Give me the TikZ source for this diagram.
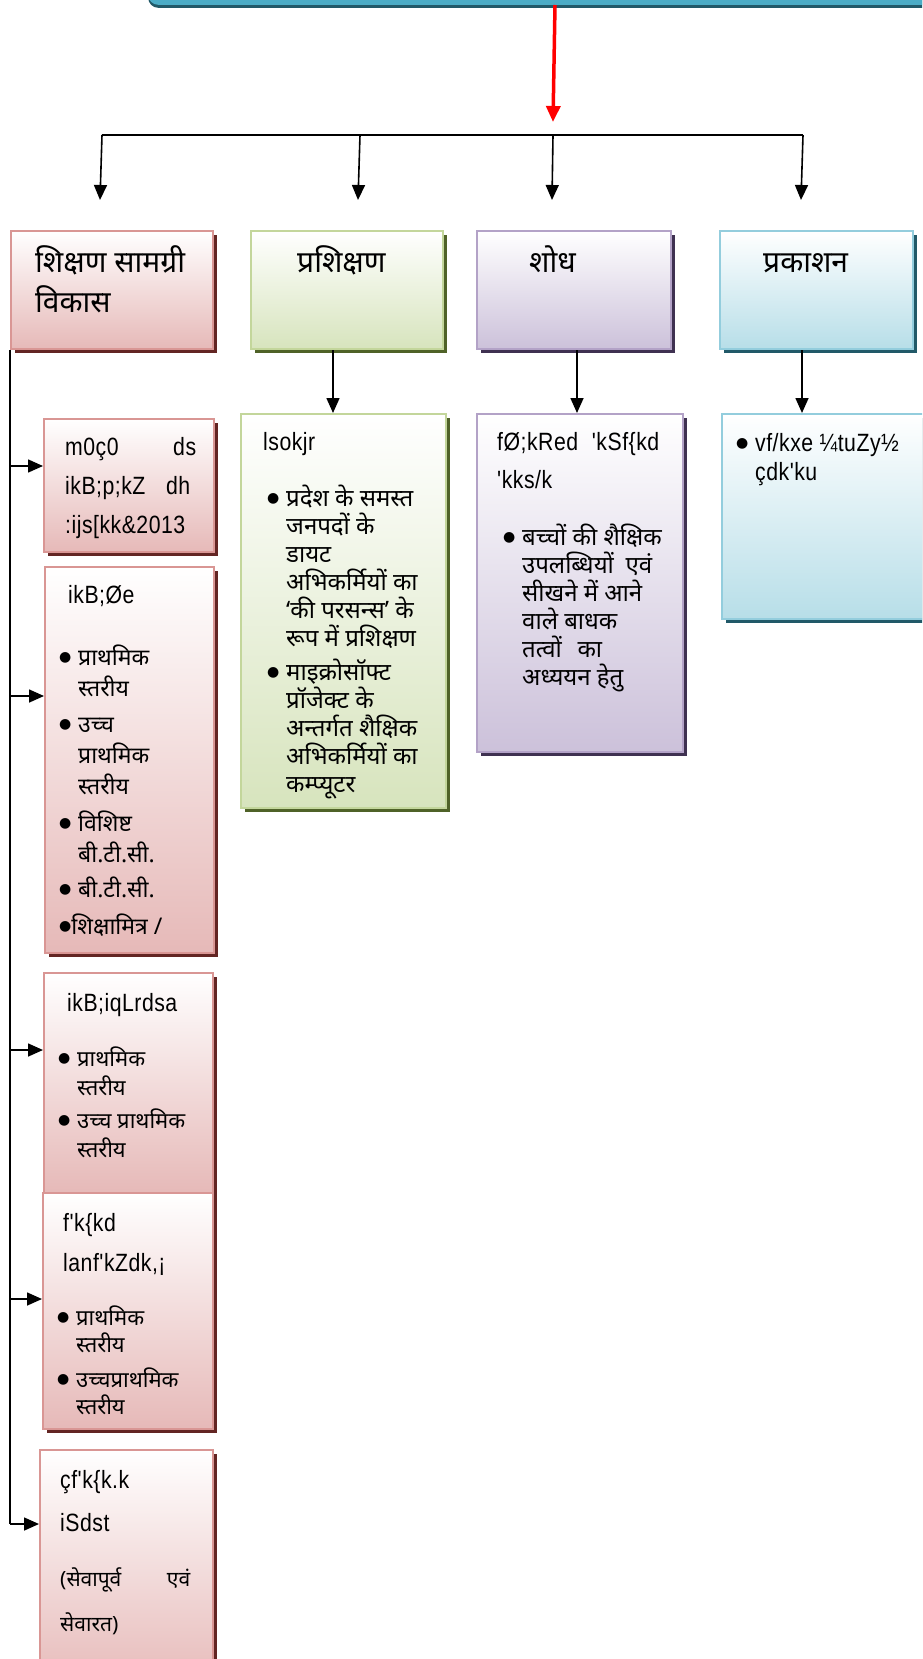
\documentclass[tikz,border=0pt]{standalone}
\usepackage{fontspec}
\newfontfamily\hindi[Script=Devanagari]{Noto Sans}
\newfontfamily\kruti[FakeStretch=0.85,LetterSpace=2]{Liberation Sans}
\newfontfamily\symb{DejaVu Sans}
\usetikzlibrary{arrows.meta,shadows}

\definecolor{pinkline}{RGB}{217,150,148}
\definecolor{pinkfill}{RGB}{230,185,184}
\definecolor{pinkdark}{RGB}{99,37,35}
\definecolor{greenline}{RGB}{195,214,155}
\definecolor{greenfill}{RGB}{215,228,189}
\definecolor{greendark}{RGB}{79,98,40}
\definecolor{violetline}{RGB}{179,162,199}
\definecolor{violetfill}{RGB}{204,193,218}
\definecolor{violetdark}{RGB}{63,49,81}
\definecolor{blueline}{RGB}{147,205,221}
\definecolor{bluefill}{RGB}{183,222,232}
\definecolor{bluedark}{RGB}{33,89,104}
\definecolor{topfill}{RGB}{75,172,198}

\newcommand{\bulletdot}{\raisebox{4pt}{\symb\fontsize{14}{14}\selectfont ●}}
\newcommand{\bul}{\makebox[19pt][l]{\bulletdot}}
\newcommand{\gap}[1]{\noalign{\vskip#1}}
\newcommand{\txtlines}[1]{\vtop{\lineskiplimit=-100pt\lineskip=0pt\let\\\cr
  \halign{##\hfil&##\hfil\cr #1\crcr}}}

\tikzset{
  panel/.style={draw=#1line, line width=2pt, top color=white, bottom color=#1fill,
    general shadow={fill=#1dark, shadow xshift=4pt, shadow yshift=-4pt},
    anchor=north west, inner sep=0pt},
  topbox/.style={fill=topfill, rounded corners=10pt, anchor=south west,
    minimum width=800pt, minimum height=60pt,
    general shadow={fill=bluedark, shadow yshift=-3pt}},
  arr/.style={-{Triangle[length=15pt,width=13pt]}, line width=1.6pt},
  redarr/.style={-{Triangle[length=16pt,width=14pt]}, line width=3.5pt, red},
  trunk/.style={line width=1.6pt},
  hd/.style={font=\hindi\fontsize{30}{40}\selectfont, anchor=base west, inner sep=0pt},
  kd/.style={font=\kruti\fontsize{25}{39}\selectfont, anchor=base west, inner sep=0pt},
  bl/.style={font=\hindi\fontsize{24}{28}\selectfont, anchor=base west, inner sep=0pt},
}

\begin{document}
\begin{tikzpicture}[x=1pt,y=-1pt]
\useasboundingbox (0,0) rectangle (922,1659);
\clip (0,0) rectangle (922,1659);
% top box
\node[topbox] (top) at (148,5) {};
% heading boxes
\node[panel=pink, minimum width=202pt, minimum height=118pt] (hd1) at (10,230) {};
\node[panel=green, minimum width=192pt, minimum height=118pt] (hd2) at (250,230) {};
\node[panel=violet, minimum width=194pt, minimum height=118pt] (hd3) at (476,230) {};
\node[panel=blue, minimum width=193pt, minimum height=118pt] (hd4) at (719,230) {};
% boxes below
\node[panel=green, minimum width=205pt, minimum height=394pt] (tr) at (240,413) {};
\node[panel=violet, minimum width=206pt, minimum height=338pt] (rs) at (476,413) {};
\node[panel=blue, minimum width=214pt, minimum height=205pt] (pb) at (721,413) {};
\node[panel=pink, minimum width=170pt, minimum height=133pt] (sA) at (43,418) {};
\node[panel=pink, minimum width=169pt, minimum height=386pt] (sB) at (44,566) {};
\node[panel=pink, minimum width=169pt, minimum height=220pt] (sC) at (43,972) {};
\node[panel=pink, minimum width=170pt, minimum height=236pt] (sD) at (42,1192) {};
\node[panel=pink, minimum width=173pt, minimum height=240pt] (sE) at (39,1449) {};

% arrows from the top
\coordinate (r0) at (553,122);
\coordinate (j1) at (102,135);
\coordinate (j2) at (360,135);
\coordinate (j3) at (553,135);
\coordinate (j4) at (803,135);
\coordinate (d1) at (100,200);
\coordinate (d2) at (358,200);
\coordinate (d3) at (552,200);
\coordinate (d4) at (801,200);
\draw[redarr] ([xshift=407pt]top.south west) -- (r0);
\draw[trunk] (j1) -- (j4);
\draw[arr] (j1) -- (d1);
\draw[arr] (j2) -- (d2);
\draw[arr] (j3) -- (d3);
\draw[arr] (j4) -- (d4);
\draw[arr] ([xshift=83pt]hd2.south west) -- ([xshift=93pt]tr.north west);
\draw[arr] ([xshift=101pt]hd3.south west) -- ([xshift=101pt]rs.north west);
\draw[arr] ([xshift=83pt]hd4.south west) -- ([xshift=81pt]pb.north west);
% left trunk
\coordinate (t1) at (10,466);
\coordinate (t2) at (10,696);
\coordinate (t3) at (10,1050);
\coordinate (t4) at (10,1299);
\coordinate (t5) at (10,1524);
\draw[trunk] (hd1.south west) -- (t5);
\draw[arr] (t1) -- (t1 -| sA.west);
\draw[arr] (t2) -- (t2 -| sB.west);
\draw[arr] (t3) -- (t3 -| sC.west);
\draw[arr] (t4) -- (t4 -| sD.west);
\draw[arr] (t5) -- (t5 -| sE.west);

% headings
\node[hd] (h1) at (35,272) {\txtlines{शिक्षण सामग्री\\ विकास}};
\node[hd] (h2) at (297,272) {प्रशिक्षण};
\node[hd] (h3) at (529,272) {शोध};
\node[hd] (h4) at (763,272) {प्रकाशन};

% texts of the left boxes
\node[kd] (a1) at (65,455) {\txtlines{\makebox[131pt][s]{m0ç0 ds}\\ \makebox[125pt][s]{ikB;p;kZ dh}\\ :ijs[kk\&2013}};
\node[kd] (b1) at (68,603) {ikB;Øe};
\node[bl, font=\hindi\fontsize{23}{31}\selectfont] (b2) at (59,665) {\txtlines{\bul & प्राथमिक\\ & स्तरीय\\ \gap{5pt}
  \bul & उच्च\\ & प्राथमिक\\ & स्तरीय\\ \gap{6pt} \bul & विशिष्ट\\ & बी.टी.सी.\\ \gap{4pt} \bul & बी.टी.सी.\\ \gap{6pt}
  \rlap{\bulletdot शिक्षामित्र /} &}};
\node[kd] (c1) at (67,1011) {ikB;iqLrdsa};
\node[bl, font=\hindi\fontsize{22}{29}\selectfont] (c2) at (58,1066) {\txtlines{\bul & प्राथमिक\\ & स्तरीय\\ \gap{4pt}
  \bul & उच्च प्राथमिक\\ & स्तरीय}};
\node[kd, font=\kruti\fontsize{25}{40}\selectfont] (e1) at (63,1231) {\txtlines{f'k\{kd\\ lanf'kZdk,¡}};
\node[bl, font=\hindi\fontsize{22}{27}\selectfont] (e2) at (57,1325) {\txtlines{\bul & प्राथमिक\\ & स्तरीय\\ \gap{8pt}
  \bul & उच्चप्राथमिक\\ & स्तरीय}};
\node[kd, font=\kruti\fontsize{25}{43}\selectfont] (f1) at (60,1488) {\txtlines{çf'k\{k.k\\ iSdst}};
\node[bl, font=\hindi\fontsize{21}{45}\selectfont] (f2) at (60,1586) {\txtlines{\makebox[130pt][s]{(सेवापूर्व एवं}\\ सेवारत)}};

% texts of the other boxes
\node[kd] (g1) at (263,450) {lsokjr};
\node[bl] (g2) at (267,506) {\txtlines{\bul & प्रदेश के समस्त\\ & जनपदों के\\ & डायट\\ & अभिकर्मियों का\\
  & ‘की परसन्स’ के\\ & रूप में प्रशिक्षण\\ \gap{6pt} \bul & माइक्रोसॉफ्ट\\ & प्रॉजेक्ट के\\ & अन्तर्गत शैक्षिक\\
  & अभिकर्मियों का\\ & कम्प्यूटर}};
\node[kd, font=\kruti\fontsize{25}{38}\selectfont] (v1) at (497,450) {\txtlines{\makebox[162pt][s]{fØ;kRed 'kSf\{kd}\\ 'kks/k}};
\node[bl] (v2) at (503,545) {\txtlines{\bul & बच्चों की शैक्षिक\\ & \makebox[130pt][s]{उपलब्धियों एवं}\\
  & सीखने में आने\\ & वाले बाधक\\ & \makebox[80pt][s]{तत्वों का}\\ & अध्ययन हेतु}};
\node[kd, font=\kruti\fontsize{25}{29}\selectfont] (p1) at (736,451) {\txtlines{\bul & vf/kxe ¼tuZy½\\ & çdk'ku}};
\end{tikzpicture}
\end{document}
